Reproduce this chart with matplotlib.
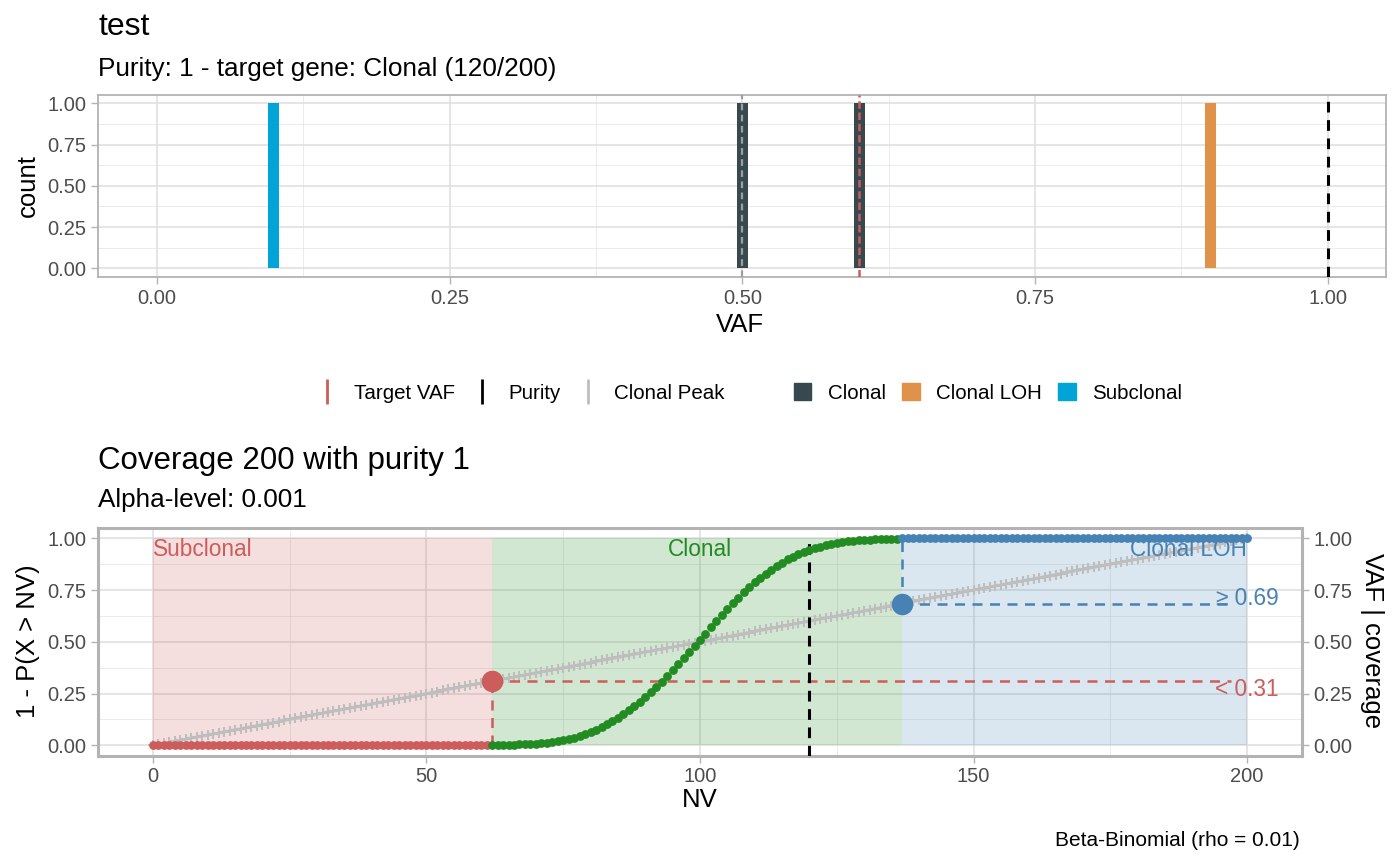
import numpy as np
import matplotlib
matplotlib.use("Agg")
import matplotlib.pyplot as plt
from matplotlib.lines import Line2D
from matplotlib.patches import Patch

plt.rcParams['font.family'] = ['Liberation Sans', 'DejaVu Sans']

# ---- top panel data (VAF histogram) ----
vaf_values = [0.1, 0.5, 0.6, 0.9]
vaf_counts = [1, 1, 1, 1]
vaf_class = ["Subclonal", "Clonal", "Clonal", "Clonal LOH"]
class_colors = {"Clonal": "#37494F", "Clonal LOH": "#E0914A", "Subclonal": "#00A4D6"}
target_vaf = 0.6
purity = 1.0
clonal_peak = 0.5

# ---- bottom panel data (beta-binomial test) ----
coverage = 200
nv_target = 120
nv_low = 62     # first NV called clonal
nv_high = 137   # first NV called clonal LOH
vaf_low = 0.31
vaf_high = 0.685
subclonal_p = [0.0] * 62
clonal_p = [0.000, 0.001, 0.001, 0.002, 0.003, 0.004, 0.005, 0.006, 0.008, 0.010,
            0.012, 0.015, 0.019, 0.024, 0.029, 0.036, 0.044, 0.053, 0.063, 0.074,
            0.087, 0.101, 0.116, 0.132, 0.150, 0.169, 0.189, 0.210, 0.232, 0.256,
            0.281, 0.307, 0.334, 0.362, 0.391, 0.420, 0.450, 0.480, 0.510, 0.540,
            0.570, 0.600, 0.630, 0.659, 0.687, 0.714, 0.740, 0.764, 0.787, 0.809,
            0.830, 0.849, 0.867, 0.883, 0.898, 0.911, 0.923, 0.934, 0.944, 0.952,
            0.960, 0.966, 0.972, 0.977, 0.981, 0.985, 0.988, 0.990, 0.992, 0.994,
            0.995, 0.996, 0.997, 0.998, 0.998]
loh_p = [1.0] * 64

RED, GREEN, BLUE = "#CD5C5C", "#228B22", "#4682B4"
GRID = "#DEDEDE"
BORDER = "#B3B3B3"
TICK = "#4D4D4D"

FS_TITLE = 22.5
FS_SUB = 18.8
FS_AXIS = 18.5
FS_TICK = 14.5
FS_LEG = 14.8
FS_ANN = 16.3

fig = plt.figure(figsize=(14, 8.65), dpi=100)


def light_theme(ax, lw_border):
    ax.set_axisbelow(True)
    ax.grid(which='major', color=GRID, linewidth=1.1)
    ax.grid(which='minor', color=GRID, linewidth=0.6, alpha=0.7)
    for s in ax.spines.values():
        s.set_color(BORDER)
        s.set_linewidth(lw_border)
    ax.tick_params(which='major', colors=BORDER, labelcolor=TICK, labelsize=FS_TICK, length=5, width=1)
    ax.tick_params(which='minor', length=0)


# ---------------- top panel ----------------
ax1 = fig.add_axes([0.0702, 0.6801, 0.9200, 0.2101])
bar_colors = [class_colors[c] for c in vaf_class]
ax1.bar(vaf_values, vaf_counts, width=0.0095, color=bar_colors, zorder=2)
ax1.axvline(clonal_peak, color="#9E9E9E", ls=(0, (3, 2)), lw=1.6, zorder=3)
ax1.axvline(target_vaf, color=RED, ls=(0, (3, 1.5)), lw=1.8, zorder=3)
ax1.axvline(purity, color="black", ls=(0, (3.5, 2.5)), lw=2.2, zorder=3)
ax1.set_xlim(-0.05, 1.05)
ax1.set_ylim(-0.05, 1.05)
ax1.set_xticks([0, 0.25, 0.5, 0.75, 1.0])
ax1.set_xticklabels(["0.00", "0.25", "0.50", "0.75", "1.00"])
ax1.set_xticks([0.125, 0.375, 0.625, 0.875], minor=True)
ax1.set_yticks([0, 0.25, 0.5, 0.75, 1.0])
ax1.set_yticklabels(["0.00", "0.25", "0.50", "0.75", "1.00"])
ax1.set_yticks([0.125, 0.375, 0.625, 0.875], minor=True)
light_theme(ax1, 1.3)

fig.text(0.0702, 1 - 35 / 865, "test", fontsize=23, va='baseline')
fig.text(0.0702, 1 - 76 / 865, "Purity: 1 - target gene: Clonal (120/200)", fontsize=FS_SUB, va='baseline')
fig.text(740 / 1400, 1 - 325 / 865, "VAF", fontsize=FS_AXIS, ha='center', va='center')
fig.text(28 / 1400, 1 - 186 / 865, "count", fontsize=FS_AXIS, ha='center', va='center', rotation=90)

# legends
line_handles = [Line2D([], [], color=RED, marker='|', ls='None', markersize=18, markeredgewidth=2),
                Line2D([], [], color="black", marker='|', ls='None', markersize=18, markeredgewidth=2),
                Line2D([], [], color="#BEBEBE", marker='|', ls='None', markersize=18, markeredgewidth=2)]
fig.legend(line_handles, ["Target VAF", "Purity", "Clonal Peak"], ncol=3, loc='center',
           bbox_to_anchor=(521 / 1400, 1 - 393 / 865), frameon=False, fontsize=FS_LEG,
           handlelength=1.0, handletextpad=0.8, columnspacing=0.8)
fill_handles = [Patch(color=class_colors[k]) for k in ["Clonal", "Clonal LOH", "Subclonal"]]
fig.legend(fill_handles, ["Clonal", "Clonal LOH", "Subclonal"], ncol=3, loc='center',
           bbox_to_anchor=(988 / 1400, 1 - 393 / 865), frameon=False, fontsize=FS_LEG,
           handlelength=0.85, handleheight=0.85, handletextpad=0.8, columnspacing=0.8)

# ---------------- bottom panel ----------------
ax2 = fig.add_axes([0.0702, 0.1264, 0.8596, 0.2632])
nv = np.arange(0, coverage + 1)
vaf_line = nv / coverage
p_all = np.array(subclonal_p + clonal_p + loh_p)

ax2.axvspan(0, nv_low, ymin=0.05 / 1.1, ymax=1.05 / 1.1, color=RED, alpha=0.2, lw=0, zorder=1)
ax2.axvspan(nv_low, nv_high, ymin=0.05 / 1.1, ymax=1.05 / 1.1, color=GREEN, alpha=0.2, lw=0, zorder=1)
ax2.axvspan(nv_high, coverage, ymin=0.05 / 1.1, ymax=1.05 / 1.1, color=BLUE, alpha=0.2, lw=0, zorder=1)

ax2.plot(nv, vaf_line, color="#BEBEBE", lw=2, marker='+', markersize=7, markeredgewidth=1.5, zorder=3)

ax2.plot([nv_low, coverage - 3], [vaf_low, vaf_low], color=RED, ls=(0, (4, 3)), lw=1.8, zorder=4)
ax2.plot([nv_low, nv_low], [0, vaf_low], color=RED, ls=(0, (4, 3)), lw=1.8, zorder=4)
ax2.plot([nv_high, coverage - 3], [vaf_high, vaf_high], color=BLUE, ls=(0, (4, 3)), lw=1.8, zorder=4)
ax2.plot([nv_high, nv_high], [vaf_high, 1.0], color=BLUE, ls=(0, (4, 3)), lw=1.8, zorder=4)
ax2.axvline(nv_target, ymin=0, ymax=0.955, color="black", ls=(0, (3.5, 2.5)), lw=2.2, zorder=4)

ax2.scatter(nv[:nv_low], p_all[:nv_low], s=40, color=RED, zorder=5, lw=0)
ax2.scatter(nv[nv_low:nv_high], p_all[nv_low:nv_high], s=40, color=GREEN, zorder=5, lw=0)
ax2.scatter(nv[nv_high:], p_all[nv_high:], s=40, color=BLUE, zorder=5, lw=0)

ax2.scatter([nv_low], [vaf_low], s=240, color=RED, zorder=6, lw=0)
ax2.scatter([nv_high], [vaf_high], s=240, color=BLUE, zorder=6, lw=0)

ax2.text(0, 0.947, "Subclonal", color=RED, fontsize=FS_ANN, ha='left', va='center', zorder=7)
ax2.text(100, 0.947, "Clonal", color=GREEN, fontsize=FS_ANN, ha='center', va='center', zorder=7)
ax2.text(coverage, 0.947, "Clonal LOH", color=BLUE, fontsize=FS_ANN, ha='right', va='center', zorder=7)
ax2.text(coverage, 0.71, "\u2265 0.69", color=BLUE, fontsize=FS_ANN, ha='center', va='center', zorder=7)
ax2.text(coverage, 0.27, "< 0.31", color=RED, fontsize=FS_ANN, ha='center', va='center', zorder=7)

ax2.set_xlim(-10, 210)
ax2.set_ylim(-0.05, 1.05)
ax2.set_xticks([0, 50, 100, 150, 200])
ax2.set_xticks([25, 75, 125, 175], minor=True)
ax2.set_yticks([0, 0.25, 0.5, 0.75, 1.0])
ax2.set_yticklabels(["0.00", "0.25", "0.50", "0.75", "1.00"])
ax2.set_yticks([0.125, 0.375, 0.625, 0.875], minor=True)
light_theme(ax2, 2.2)

ax3 = ax2.twinx()
ax3.set_ylim(-0.05, 1.05)
ax3.set_yticks([0, 0.25, 0.5, 0.75, 1.0])
ax3.set_yticklabels(["0.00", "0.25", "0.50", "0.75", "1.00"])
for s in ax3.spines.values():
    s.set_visible(False)
ax3.tick_params(colors=BORDER, labelcolor=TICK, labelsize=FS_TICK, length=5, width=1)

fig.text(0.0702, 1 - 469 / 865, "Coverage 200 with purity 1", fontsize=FS_TITLE, va='baseline')
fig.text(0.0702, 1 - 507 / 865, "Alpha-level: 0.001", fontsize=FS_SUB, va='baseline')
fig.text(700 / 1400, 1 - 800 / 865, "NV", fontsize=FS_AXIS, ha='center', va='center')
fig.text(28 / 1400, 1 - 641 / 865, "1 - P(X > NV)", fontsize=FS_AXIS, ha='center', va='center', rotation=90)
fig.text(1372 / 1400, 1 - 641 / 865, "VAF | coverage", fontsize=FS_AXIS, ha='center', va='center', rotation=270)
fig.text(1300 / 1400, 1 - 840 / 865, "Beta-Binomial (rho = 0.01)", fontsize=15, ha='right', va='center')

fig.savefig("out.png", dpi=100)
